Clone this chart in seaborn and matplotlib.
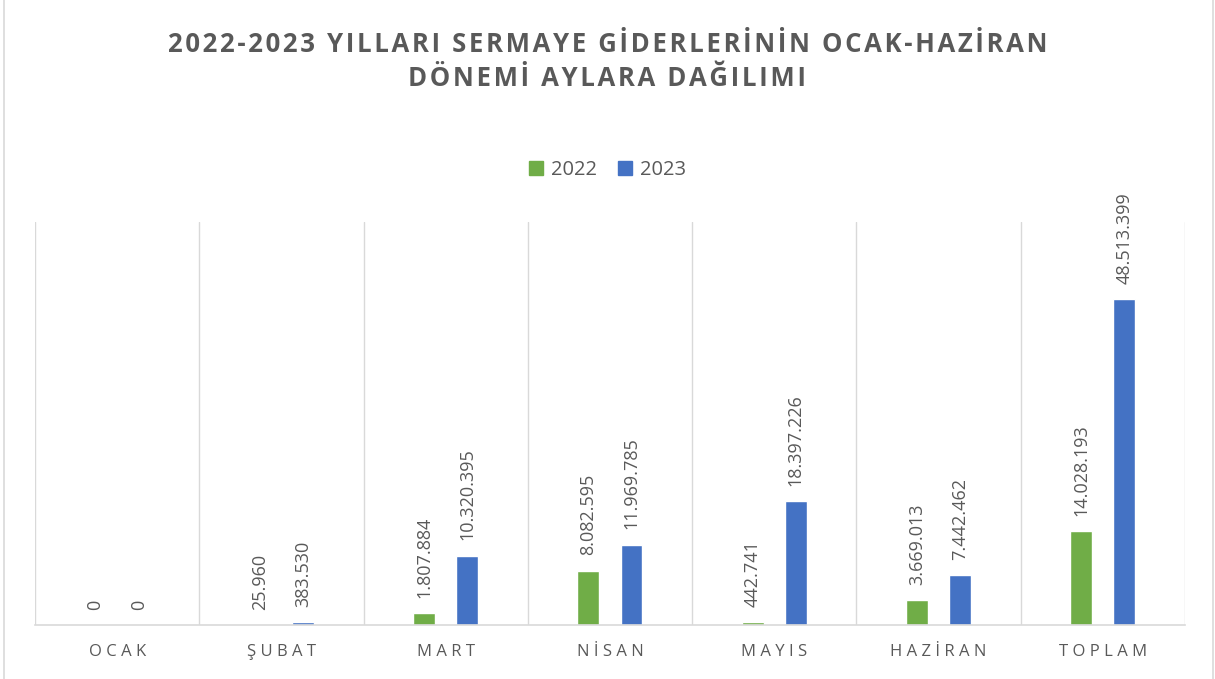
import matplotlib
matplotlib.use("Agg")
import matplotlib.pyplot as plt
import matplotlib.patches as mpatches
import numpy as np
import pandas as pd
import seaborn as sns

# data
months = ["OCAK", "ŞUBAT", "MART", "NİSAN", "MAYIS", "HAZİRAN", "TOPLAM"]
years = ["2022", "2023"]
val_2022 = [0, 25960, 1807884, 8082595, 442741, 3669013, 14028193]
val_2023 = [0, 383530, 10320395, 11969785, 18397226, 7442462, 48513399]

df = pd.DataFrame({
    "ay": months * 2,
    "yil": [years[0]] * len(months) + [years[1]] * len(months),
    "tutar": val_2022 + val_2023,
})

palette = {"2022": "#70AD47", "2023": "#4472C4"}
gray = "#595959"
line_gray = "#D9D9D9"

sns.set_style("white")
plt.rcParams['font.family'] = ['Open Sans', 'DejaVu Sans']


def spaced(s, sep="\u2009"):
    # excel style letter spacing
    return sep.join(list(s))


fig = plt.figure(figsize=(12.15, 6.79), dpi=100)
ax = fig.add_axes([0.0288, 0.0795, 0.9465, 0.5935])

sns.barplot(data=df, x="ay", y="tutar", hue="yil", palette=palette, ax=ax,
            width=0.524, gap=0.49, legend=False, saturation=1)

ax.set_xlim(-0.5, 6.5)
ax.set_ylim(0, 60000000)

# data labels, turkish thousands separator
for cont in ax.containers:
    labs = [f"{int(b.get_height()):,}".replace(",", ".") for b in cont]
    ax.bar_label(cont, labels=labs, rotation=90, padding=11, fontsize=13, color=gray)

# vertical separators between categories
ax.set_xticks(np.arange(-0.5, 7, 1), minor=True)
ax.grid(True, which="minor", axis="x", color=line_gray, linewidth=1)
ax.grid(False, which="major")
ax.tick_params(axis="x", which="both", length=0)
ax.set_xticks(range(len(months)))
ax.set_xticklabels([spaced(m, "\u2009\u200a") for m in months], fontsize=12, color=gray)
ax.tick_params(axis="x", pad=14)
ax.set_yticks([])
ax.set_xlabel("")
ax.set_ylabel("")
for side in ["top", "left", "right"]:
    ax.spines[side].set_visible(False)
ax.spines["bottom"].set_color(line_gray)
ax.spines["bottom"].set_linewidth(1.2)

# title
title1 = "2022-2023 YILLARI SERMAYE GİDERLERİNİN OCAK-HAZİRAN"
title2 = "DÖNEMİ AYLARA DAĞILIMI"
fig.text(0.5, 1 - 45 / 679, spaced(title1, "\u200a"), ha="center", va="center",
         fontsize=18.5, fontweight="bold", color=gray)
fig.text(0.5, 1 - 78 / 679, spaced(title2, "\u200a"), ha="center", va="center",
         fontsize=18.5, fontweight="bold", color=gray)

# legend
handles = [mpatches.Patch(color=palette[y], label=y) for y in years]
fig.legend(handles=handles, loc="center", bbox_to_anchor=(0.5, 1 - 170 / 679), ncol=2,
           frameon=False, fontsize=14.5, labelcolor=gray, handlelength=0.7,
           handleheight=0.7, handletextpad=0.4, columnspacing=1.0)

# chart border
fig.patches.append(mpatches.Rectangle((4 / 1215, -0.01), 1209 / 1215, 1.02, transform=fig.transFigure,
                                      fill=False, edgecolor=line_gray, linewidth=1.2))

fig.savefig("out.png", dpi=100, facecolor="white")
